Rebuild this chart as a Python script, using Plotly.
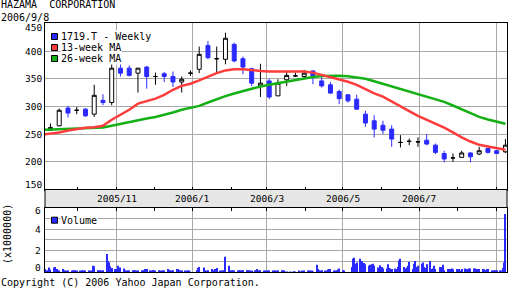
import plotly.graph_objects as go
import pandas as pd

# ---------------- text ----------------
title_name = "HAZAMA  CORPORATION"
title_date = "2006/9/8"
ticker_label = "1719.T - Weekly"
ma13_label = "13-week MA"
ma26_label = "26-week MA"
volume_label = "Volume"
volume_unit = "(x1000000)"
copyright_text = "Copyright (C) 2006 Yahoo Japan Corporation."

# ---------------- data ----------------
week_end = pd.date_range("2005-09-09", "2006-09-08", freq="7D")  # 53 weekly candles (Fridays)

opens = [257, 265, 297, 293, 295, 286, 311, 307, 369, 369, 360, 371, 354, 359, 354, 344, 360, 367, 410, 386,
         385, 412, 386, 368, 337, 346, 319, 348, 355, 354, 364, 346, 339, 327, 321, 313, 286, 274, 266, 259,
         235, 237, 236, 239, 230, 215, 207, 208, 216, 214, 224, 220, 218]
highs = [269, 296, 301, 299, 297, 339, 322, 379, 378, 374, 369, 373, 361, 362, 363, 354, 365, 408, 418, 408,
         433, 415, 390, 370, 377, 350, 349, 363, 361, 366, 365, 353, 344, 330, 321, 321, 292, 284, 274, 266,
         248, 242, 244, 250, 233, 220, 215, 220, 217, 227, 224, 220, 241]
lows = [257, 264, 280, 286, 281, 281, 302, 302, 354, 354, 325, 332, 339, 344, 335, 325, 355, 360, 385, 360,
        376, 380, 358, 337, 317, 313, 319, 337, 353, 349, 340, 334, 323, 304, 307, 295, 263, 244, 250, 227,
        226, 230, 227, 230, 214, 199, 200, 208, 199, 212, 215, 214, 216]
closes = [262, 293, 288, 293, 283, 320, 307, 369, 360, 356, 369, 354, 354, 354, 344, 349, 360, 394, 388, 386,
          423, 382, 371, 342, 342, 317, 342, 356, 355, 360, 354, 337, 324, 314, 310, 295, 270, 259, 257, 241,
          235, 237, 236, 232, 217, 205, 207, 216, 209, 220, 217, 215, 230]

ma_dates = pd.date_range("2005-09-02", "2006-09-08", freq="7D")  # includes the week before the window
ma13 = [249, 250.5, 253, 256.5, 259.5, 261.5, 262.5, 265, 276, 284.5, 294, 305, 309, 314, 321, 330,
        337, 341, 347, 354, 360, 365, 367, 367, 365, 364, 363, 363, 363, 363, 363, 361, 357, 353.5,
        349, 344.5, 339, 331, 323.5, 317.7, 309.5, 300.6, 291.6, 283, 276.4, 269.7, 261.8, 253, 244,
        236.6, 230.6, 227.5, 224.6, 221.6]
ma26 = [257.5, 258, 258.5, 259, 259.5, 260, 261, 262, 265, 268.5, 272, 275.5, 278, 281, 284.5, 289,
        294, 297, 301, 307, 313, 318.5, 323.3, 328, 332, 336, 339, 342, 344.6, 348, 351, 353, 355,
        355.3, 355.4, 354.5, 352.5, 350, 345.5, 341, 336.5, 332, 327.4, 322.9, 318.3, 313.8, 308.2,
        301.6, 294.7, 286.8, 281, 276.4, 272.5, 268.6]

vol_dates = pd.bdate_range("2005-09-05", "2006-09-08")  # daily (weekday) volume, x 1,000,000
volume_weeks = [
    [0.3, 0.15, 0.2, 0.45, 0.25], [0.45, 0.5, 0.3, 0.1, 0.15], [0.3, 0.2, 0.1, 0.12, 0.15],
    [0.1, 0.12, 0.2, 0.2, 0.15], [0.15, 0.2, 0.1, 0.1, 0.15], [0.1, 0.15, 0.1, 0.6, 0.55],
    [0.2, 0.15, 0.2, 0.1, 0.2], [1.7, 1.05, 0.9, 0.55, 0.4], [0.3, 0.3, 0.6, 0.2, 0.45],
    [0.35, 0.2, 0.15, 0.1, 0.15], [0.2, 0.1, 0.2, 0.15, 0.1], [0.15, 0.2, 0.1, 0.3, 0.3],
    [0.2, 0.15, 0.2, 0.2, 0.1], [0.2, 0.15, 0.1, 0.1, 0.1], [0.3, 0.2, 0.2, 0.15, 0.2],
    [0.3, 0.3, 0.1, 0.2, 0.1], [0.1, 0.15, 0.1, 0.1, 0.05], [0, 0, 0.2, 0.4, 0.5],
    [0, 0.45, 0.15, 0.1, 0.2], [0.3, 0.1, 0.1, 0.3, 0.4], [0.15, 0.1, 0.15, 0.1, 1.45],
    [0.6, 0.2, 0.2, 0.1, 0.15], [0.15, 0.2, 0.2, 0.2, 0.2], [0.2, 0.2, 0.1, 0.1, 0.1],
    [0.2, 0.3, 0.15, 0.1, 0.2], [0.1, 0.15, 0.1, 0.1, 0.1], [0.1, 0.1, 0.12, 0.1, 0.15],
    [0.12, 0.2, 0.12, 0.04, 0.04], [0.04, 0, 0.04, 0.04, 0.04], [0.12, 0.05, 0.12, 0.05, 0.12],
    [0.12, 0.12, 0.12, 0.1, 0.05], [0.7, 0.3, 0.15, 0.12, 0.2], [0.15, 0.12, 0.25, 0.3, 0.3],
    [0.12, 0.12, 0.2, 0.25, 0.35], [0.2, 0.15, 0, 0, 0], [0.5, 1.25, 1.35, 0.8, 0.9],
    [1.25, 1.05, 0.7, 0.85, 0.75], [0.6, 0.7, 0.75, 0.8, 0.6], [0.45, 0.35, 0.65, 0.5, 0.35],
    [0.35, 0.75, 0.4, 0.35, 0.3], [0.35, 0.3, 0.5, 1.1, 1.25], [0.5, 0.35, 0.45, 0.6, 0.95],
    [0.3, 0.8, 1.05, 0.5, 0.6], [0.8, 0.9, 0.5, 0.4, 0.75], [1.05, 0.3, 0.35, 0.6, 0.3],
    [0, 0.5, 0.5, 0.7, 0.2], [0.3, 0.2, 0.3, 0.35, 0.28], [0.3, 0.3, 0.3, 0.1, 0.3],
    [0.35, 0.3, 0.2, 0.35, 0.35], [0.35, 0.35, 0.3, 0.2, 0.3], [0.3, 0.28, 0.2, 0.3, 0.3],
    [0.12, 0.1, 0.12, 0.2, 0.2], [0.2, 0.12, 0.4, 0.9, 5.4],
]
volume_m = [v for w in volume_weeks for v in w]

price_labels = [150, 200, 250, 300, 350, 400, 450]
price_grid = [200, 250, 300, 350, 400]
volume_labels = [0, 2, 4, 6]
volume_grid = [1, 2, 3, 4, 5]
month_labels = ["2005/11", "2006/1", "2006/3", "2006/5", "2006/7"]
grid_dates = ["2005-11-01", "2006-01-01", "2006-03-01", "2006-05-01", "2006-07-01", "2006-09-01"]
minor_dates = ["2005-10-01", "2005-12-01", "2006-02-01", "2006-04-01", "2006-06-01", "2006-08-01"]
x_range = ["2005-09-04 15:00", "2006-09-09 06:00"]

# ---------------- style ----------------
W, H = 512, 288
FONT = "DejaVu Sans Mono"
BLUE = "#2a2aff"
RED = "#ff3c3c"
GREEN = "#14b014"
GRID = "#a8a8a8"

def px_x(p):
    return p / W

def px_y(p):
    return 1 - p / H

main_dom = [px_y(189.5), px_y(23.3)]
vol_dom = [px_y(272.3), px_y(207.5)]
x_dom = [px_x(45), px_x(507)]

fig = go.Figure()

fig.add_trace(go.Scatter(x=ma_dates, y=ma26, mode="lines", line=dict(color=GREEN, width=2.5),
                         hoverinfo="skip", showlegend=False, xaxis="x", yaxis="y"))
fig.add_trace(go.Scatter(x=ma_dates, y=ma13, mode="lines", line=dict(color=RED, width=2.5),
                         hoverinfo="skip", showlegend=False, xaxis="x", yaxis="y"))

n = len(opens)
groups = [
    ([i for i in range(n) if closes[i] > opens[i]], "white", "black"),
    ([i for i in range(n) if closes[i] < opens[i]], BLUE, BLUE),
    ([i for i in range(n) if closes[i] == opens[i]], "black", "black"),
]
for idx, fill, line in groups:
    fig.add_trace(go.Candlestick(
        x=[week_end[i] for i in idx],
        open=[opens[i] for i in idx], high=[highs[i] for i in idx],
        low=[lows[i] for i in idx], close=[closes[i] for i in idx],
        increasing=dict(fillcolor=fill, line=dict(color=line, width=1)),
        decreasing=dict(fillcolor=fill, line=dict(color=line, width=1)),
        whiskerwidth=0, hoverinfo="skip", showlegend=False, xaxis="x", yaxis="y"))

fig.add_trace(go.Bar(x=vol_dates, y=volume_m, width=0.8 * 86400000, marker=dict(color=BLUE, line=dict(width=0)),
                     hoverinfo="skip", showlegend=False, xaxis="x2", yaxis="y2"))

common_x = dict(domain=x_dom, range=x_range, type="date", tickmode="array", tickvals=grid_dates,
                showticklabels=False, showgrid=True, gridcolor=GRID, gridwidth=1,
                ticks="inside", ticklen=3, tickcolor="black",
                minor=dict(tickmode="array", tickvals=minor_dates, ticks="inside", ticklen=3,
                           tickcolor="black", showgrid=False),
                showline=True, linecolor="black", linewidth=1, mirror=True, zeroline=False,
                fixedrange=True)

fig.update_layout(
    width=W, height=H, margin=dict(l=0, r=0, t=0, b=0),
    paper_bgcolor="white", plot_bgcolor="white", showlegend=False,
    boxgap=0.35,
    font=dict(family=FONT, size=10, color="black"),
    xaxis=dict(common_x, anchor="y", rangeslider=dict(visible=False)),
    yaxis=dict(domain=main_dom, range=[150, 450], tickmode="array", tickvals=price_grid,
               showticklabels=False, showgrid=True, gridcolor=GRID, gridwidth=1, ticks="",
               showline=True, linecolor="black", linewidth=1, mirror=True, zeroline=False, fixedrange=True),
    xaxis2=dict(common_x, anchor="y2", side="top"),
    yaxis2=dict(domain=vol_dom, range=[0, 6], tickmode="array", tickvals=volume_grid,
                showticklabels=False, showgrid=True, gridcolor=GRID, gridwidth=1, ticks="",
                showline=True, linecolor="black", linewidth=1, mirror=True, zeroline=False, fixedrange=True),
)

shapes = []
annotations = []

# date band between the panels
shapes.append(dict(type="rect", xref="paper", yref="paper", x0=x_dom[0], x1=x_dom[1],
                   y0=vol_dom[1], y1=main_dom[0], fillcolor="#e6e6e6", line=dict(color="black", width=1),
                   layer="above"))
for d, lab in zip(grid_dates, month_labels):
    annotations.append(dict(x=d, xref="x", y=px_y(198.5), yref="paper", text=lab, showarrow=False,
                            xanchor="center", yanchor="middle", font=dict(size=9.5)))

# price labels
for v in price_labels:
    shift = -4.5 if v == price_labels[-1] else (5 if v == price_labels[0] else 0)
    annotations.append(dict(x=px_x(42.5), xref="paper", y=v, yref="y", text=str(v), showarrow=False,
                            xanchor="right", yanchor="middle", yshift=shift, borderpad=0,
                            font=dict(size=9.5)))
# volume labels
for v in volume_labels:
    shift = -3 if v == volume_labels[-1] else (5 if v == volume_labels[0] else 0)
    annotations.append(dict(x=px_x(42.5), xref="paper", y=v, yref="y2", text=str(v), showarrow=False,
                            xanchor="right", yanchor="middle", yshift=shift, font=dict(size=9.5)))

# legends
legend_items = [(ticker_label, BLUE, 36.5), (ma13_label, RED, 47.5), (ma26_label, GREEN, 58.5),
                (volume_label, BLUE, 220.2)]
for text, col, yc in legend_items:
    shapes.append(dict(type="rect", xref="paper", yref="paper", x0=px_x(51.5), x1=px_x(57.5),
                       y0=px_y(yc + 3), y1=px_y(yc - 3), fillcolor=col, line=dict(color="black", width=1),
                       layer="above"))
    annotations.append(dict(x=px_x(59.5), xref="paper", y=px_y(yc), yref="paper", text=text,
                            showarrow=False, xanchor="left", yanchor="middle", bgcolor="white",
                            borderpad=0, font=dict(size=10)))

# titles (one two-line block)
annotations.append(dict(x=0, xref="paper", y=1, yref="paper", text=title_name + "<br>" + title_date,
                        showarrow=False, xanchor="left", yanchor="top", align="left", borderpad=0,
                        yshift=2.5, font=dict(size=10)))
annotations.append(dict(x=px_x(7), xref="paper", y=px_y(234), yref="paper", text=volume_unit,
                        showarrow=False, textangle=-90, xanchor="center", yanchor="middle",
                        font=dict(size=10)))
annotations.append(dict(x=0, xref="paper", y=px_y(282), yref="paper", text=copyright_text,
                        showarrow=False, xanchor="left", yanchor="middle", borderpad=0, font=dict(size=10)))

fig.update_layout(shapes=shapes, annotations=annotations)
fig.write_html("out.html", config={"displayModeBar": False})
